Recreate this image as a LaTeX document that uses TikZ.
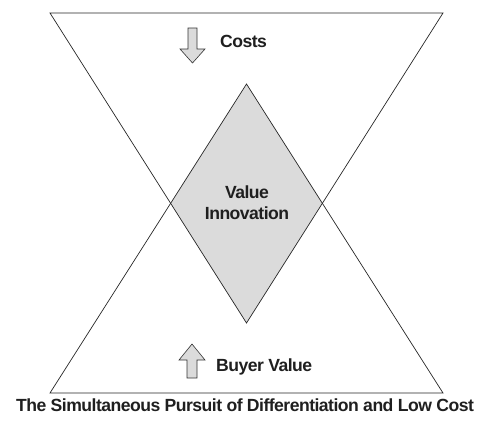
\documentclass[tikz,border=0pt]{standalone}
\usepackage{fontspec}
\setmainfont{Liberation Sans}[LetterSpace=-3]
\begin{document}
\begin{tikzpicture}[x=1pt,y=-1pt,
  edge/.style={draw=black!85,line width=0.7pt,line join=miter},
  lbl/.style={font=\bfseries\fontsize{17.6}{21}\selectfont,text=black!88,inner sep=0pt},
  arrowshape/.style={draw=black!80,fill=black!14,line width=0.6pt,line join=miter}]
\useasboundingbox (0,0) rectangle (479,421);
% triangles
\coordinate (tl) at (50,13);
\coordinate (tr) at (443,13);
\coordinate (ta) at (246.5,323);
\coordinate (bl) at (50,393);
\coordinate (br) at (443,393);
\coordinate (ba) at (246.5,84);
\begin{scope}
  \clip (tl) -- (tr) -- (ta) -- cycle;
  \fill[black!14] (bl) -- (br) -- (ba) -- cycle;
\end{scope}
\draw[edge] (tl) -- (tr) -- (ta) -- cycle;
\draw[edge] (bl) -- (br) -- (ba) -- cycle;
% arrows
\draw[arrowshape] (188,28) -- (197,28) -- (197,49) -- (205,49) -- (192.5,63) -- (180,49) -- (188,49) -- cycle;
\draw[arrowshape] (187,378) -- (197,378) -- (197,360) -- (205,360) -- (192,344) -- (179,360) -- (187,360) -- cycle;
% labels
\node[lbl,anchor=west] (costs) at (220,41) {Costs};
\node[lbl,anchor=west] (buyer) at (216,367) {Buyer Value};
\node[lbl,align=center] (vi) at (247,203) {Value\\Innovation};
\node[lbl] (cap) at (245,405) {The Simultaneous Pursuit of Differentiation and Low Cost};
\end{tikzpicture}
\end{document}
